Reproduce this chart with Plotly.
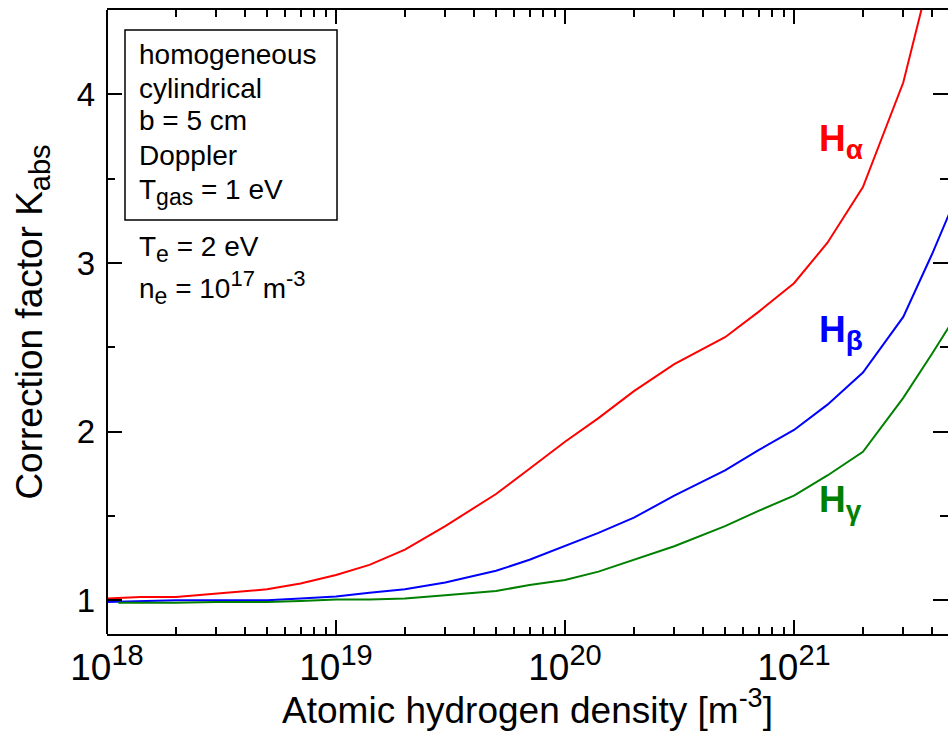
import plotly.graph_objects as go

# Atomic hydrogen density [m^-3]
density = [1e18, 1.4e18, 2e18, 3e18, 5e18, 7e18, 1e19, 1.4e19, 2e19, 3e19,
           5e19, 7e19, 1e20, 1.4e20, 2e20, 3e20, 5e20, 7e20, 1e21, 1.4e21,
           2e21, 3e21, 4e21, 5e21]
density_gamma = [1.12e18] + density[2:]

# Correction factor K_abs for the Balmer lines
k_alpha = [1.01, 1.02, 1.02, 1.04, 1.065, 1.10, 1.15, 1.21, 1.30, 1.44,
           1.63, 1.78, 1.94, 2.08, 2.24, 2.40, 2.56, 2.71, 2.88, 3.12,
           3.45, 4.07, 4.75, 5.40]
k_beta = [0.99, 0.995, 1.0, 1.0, 1.0, 1.01, 1.022, 1.045, 1.065, 1.105,
          1.175, 1.24, 1.32, 1.40, 1.49, 1.62, 1.77, 1.89, 2.01, 2.16,
          2.35, 2.68, 3.05, 3.36]
k_gamma = [0.985, 0.985, 0.99, 0.99, 0.995, 1.005, 1.005, 1.01, 1.03,
           1.055, 1.09, 1.12, 1.17, 1.24, 1.32, 1.44, 1.53, 1.62, 1.74,
           1.88, 2.20, 2.46, 2.67]

x_exponents = [18, 19, 20, 21]
x_tickvals = [10.0 ** e for e in x_exponents]
x_minor = [m * 10.0 ** e for e in range(18, 22) for m in range(2, 10)]
y_tickvals = [1, 2, 3, 4]
y_minor = [1.5, 2.5, 3.5]

FONT = "Liberation Sans, Arial, sans-serif"


def small(s, px):
    return "<span style='font-size:%dpx'>%s</span>" % (px, s)


x_ticktext = ["10<sup>" + small(str(e), 29) + "</sup>" for e in x_exponents]

fig = go.Figure()
fig.add_trace(go.Scatter(x=density, y=k_alpha, mode="lines",
                         line=dict(color="#FF0000", width=2), name="Hα"))
fig.add_trace(go.Scatter(x=density, y=k_beta, mode="lines",
                         line=dict(color="#0000FF", width=2), name="Hβ"))
fig.add_trace(go.Scatter(x=density_gamma, y=k_gamma, mode="lines",
                         line=dict(color="#008000", width=2), name="Hγ"))

x_right = 18 + (948 - 107) / 229.0

fig.update_layout(
    width=948, height=731,
    margin=dict(l=107, r=0, t=10, b=97),
    paper_bgcolor="white", plot_bgcolor="white",
    showlegend=False,
    font=dict(family=FONT, color="black"),
    xaxis=dict(
        type="log", range=[18, x_right],
        tickvals=x_tickvals, ticktext=x_ticktext,
        ticks="inside", ticklen=14, tickwidth=2, tickcolor="black",
        minor=dict(ticks="inside", ticklen=7, tickwidth=2, tickcolor="black",
                   tickvals=x_minor),
        showline=True, linewidth=2, linecolor="black", mirror="ticks",
        showgrid=False, zeroline=False,
        tickfont=dict(size=37, family=FONT),
        ticklabelstandoff=0,
        title=dict(text="Atomic hydrogen density [m<sup>" + small("-3", 27) + "</sup>]",
                   font=dict(size=37, family=FONT), standoff=0),
    ),
    yaxis=dict(
        range=[0.8, 4.5],
        tickvals=y_tickvals,
        ticks="inside", ticklen=15, tickwidth=2, tickcolor="black",
        minor=dict(ticks="inside", ticklen=8, tickwidth=2, tickcolor="black",
                   tickvals=y_minor),
        showline=False, mirror="ticks",
        showgrid=False, zeroline=False,
        tickfont=dict(size=33, family=FONT),
        ticklabelstandoff=11,
        title=dict(text="Correction factor K<sub>" + small("abs", 29) + "</sub>",
                   font=dict(size=37, family=FONT), standoff=22),
    ),
)

# left frame line
fig.add_shape(type="line", xref="paper", yref="paper", x0=0, x1=0, y0=0, y1=1,
              line=dict(color="black", width=2))

# parameter box
fig.add_shape(type="rect", xref="paper", yref="paper",
              x0=0.0214, x1=0.2735, y0=0.6635, y1=0.968,
              line=dict(color="black", width=1.5), fillcolor="rgba(0,0,0,0)")

box_lines = [
    ("homogeneous", 0.928),
    ("cylindrical", 0.875),
    ("b = 5 cm", 0.823),
    ("Doppler", 0.767),
    ("T<sub>" + small("gas", 23) + "</sub> = 1 eV", 0.708),
    ("T<sub>" + small("e", 23) + "</sub> = 2 eV", 0.617),
    ("n<sub>" + small("e", 23) + "</sub> = 10<sup>" + small("17", 22) + "</sup> m<sup>"
     + small("-3", 22) + "</sup>", 0.556),
]
for txt, yf in box_lines:
    fig.add_annotation(xref="paper", yref="paper", x=0.036, y=yf,
                       xanchor="left", yanchor="middle", align="left", showarrow=False,
                       text=txt, font=dict(size=28, family=FONT, color="black"))

# line labels
line_labels = [("α", 3.72, "#FF0000"),
               ("β", 2.59, "#0000FF"),
               ("γ", 1.58, "#008000")]
for greek, yv, col in line_labels:
    fig.add_annotation(x=21.1, y=yv, xref="x", yref="y", xanchor="left",
                       yanchor="middle", showarrow=False,
                       text="<b>H<sub>" + small(greek, 28) + "</sub></b>",
                       font=dict(size=37, family=FONT, color=col))

fig.write_html("out.html")
